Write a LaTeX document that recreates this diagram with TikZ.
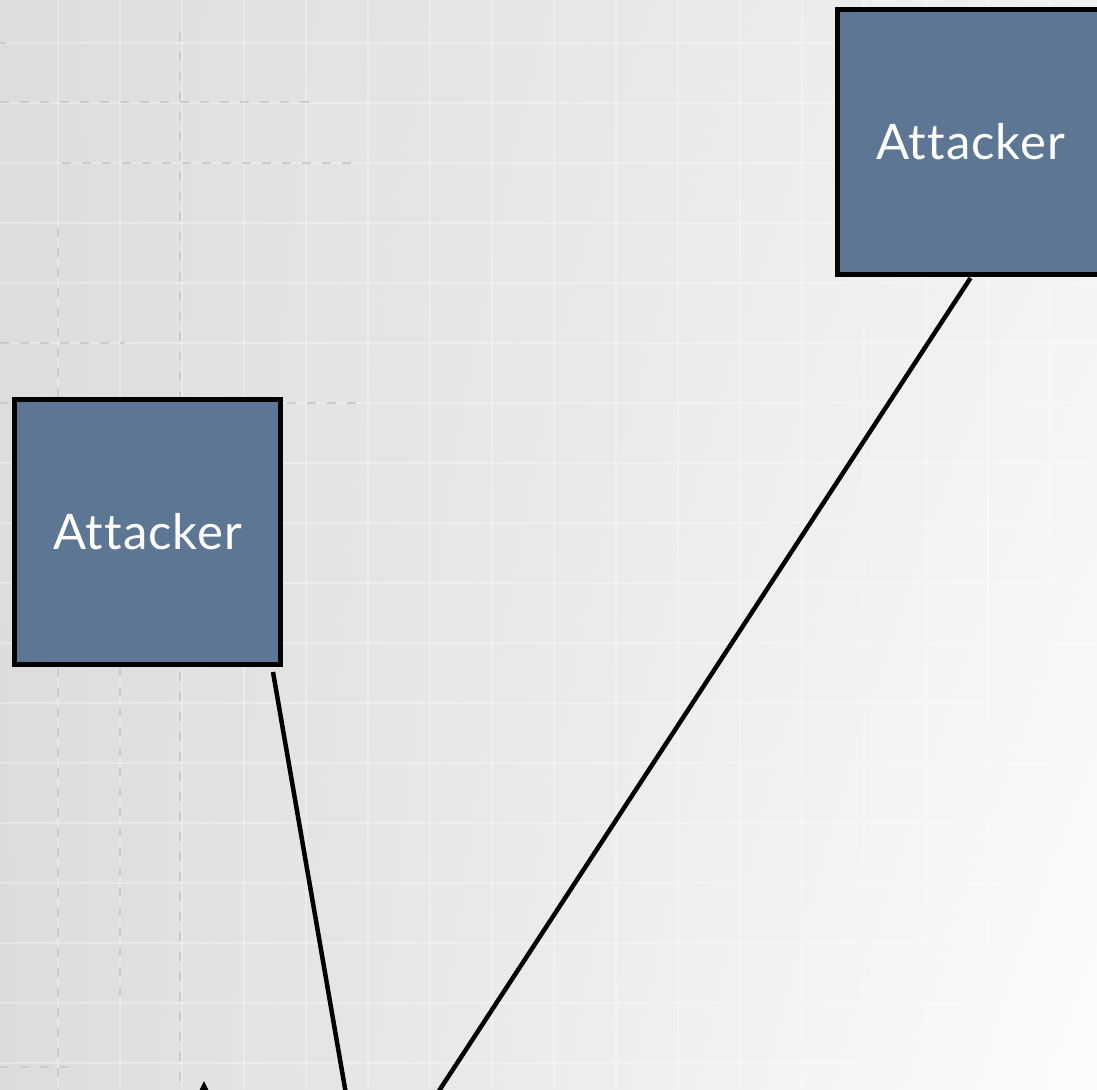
\documentclass[tikz,border=0pt]{standalone}
\usepackage{fontspec}
\setmainfont[Ligatures=NoCommon, LetterSpace=2]{Lato}
\usetikzlibrary{shadings}
\definecolor{bgA}{HTML}{DBDEDD}
\definecolor{bgB}{HTML}{F0F1F0}
\definecolor{bgC}{HTML}{FCFCFC}
\definecolor{bgD}{HTML}{DADDDC}
\definecolor{boxfill}{HTML}{5C7693}
\definecolor{dashgrey}{HTML}{C9CDCC}
\tikzset{
  attacker/.style={draw=black, line width=5pt, fill=boxfill, minimum width=266pt, minimum height=265pt, inner sep=0pt, text=white, font=\fontsize{49}{58}\selectfont},
  link/.style={draw=black, line width=4.5pt},
  gridline/.style={draw=white, opacity=0.3, line width=2pt},
  dashline/.style={draw=dashgrey, line width=2pt, dash pattern=on 9pt off 11pt}
}
\begin{document}
\begin{tikzpicture}[x=1pt,y=-1pt]
\useasboundingbox (0,0) rectangle (1097,1089);
\clip (0,0) rectangle (1097,1089);
% background
\shade[upper left=bgA, upper right=bgB, lower right=bgC, lower left=bgD] (0,0) rectangle (1097,1089);
% light grid
\foreach \gx in {-4,58,...,1100} { \draw[gridline] (\gx,0) -- (\gx,1089); }
\foreach \gy in {43,103,...,1089} { \draw[gridline] (0,\gy) -- (1097,\gy); }
% dashed guide lines
\draw[dashline] (180,32) -- (180,1089);
\draw[dashline] (58,228) -- (58,1089);
\draw[dashline] (120,667) -- (120,1007);
\draw[dashline] (0,43) -- (6,43);
\draw[dashline] (0,102) -- (317,102);
\draw[dashline] (62,163) -- (360,163);
\draw[dashline] (0,343) -- (125,343);
\draw[dashline] (0,403) -- (12,403);
\draw[dashline] (287,403) -- (360,403);
\draw[dashline] (0,1067) -- (70,1067);
% attacker boxes
\node[attacker] (a1) at (147.5,532) {Attacker};
\node[attacker] (a2) at (970.5,142) {Attacker};
% convergence point below the visible area
\coordinate (victim) at (365,1204);
\coordinate (l1s) at ([xshift=-10pt,yshift=-5pt]a1.south east);
\draw[link] (l1s) -- (victim);
\draw[link] ([yshift=-1pt]a2.south) -- (victim);
% arrow tip entering at bottom
\fill[black] (204,1081) -- (198.5,1092) -- (209.5,1092) -- cycle;
\end{tikzpicture}
\end{document}
